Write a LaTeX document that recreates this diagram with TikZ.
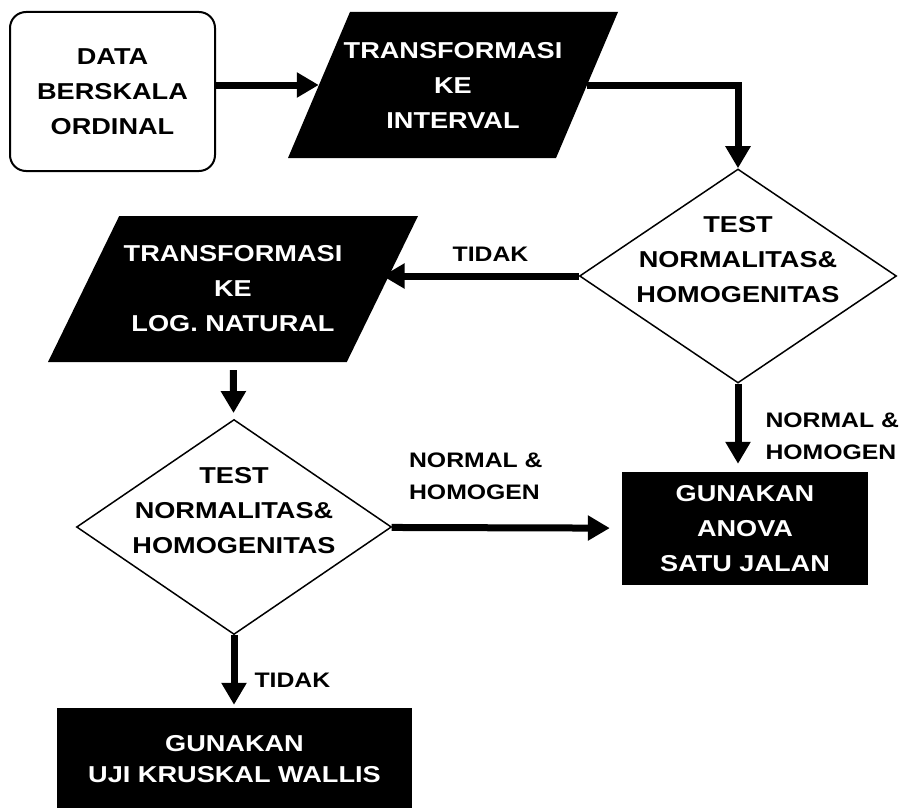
\documentclass[tikz,border=0pt]{standalone}
\usepackage{fontspec}
\usepackage{tikz}
\usetikzlibrary{arrows.meta,shapes.geometric,positioning}
\newfontfamily\flowfont{Liberation Sans}[FakeStretch=1.18]
\newcommand{\bigtxt}{\flowfont\bfseries\fontsize{23}{35}\selectfont}
\newcommand{\smalltxt}{\flowfont\bfseries\fontsize{21}{32}\selectfont}

\begin{document}
\begin{tikzpicture}[x=1pt, y=-1pt,
	arr/.style={line width=7pt, -{Triangle[length=22pt,width=24pt]}},
	start/.style={rectangle, rounded corners=16pt, draw, line width=2pt, align=center, font=\bigtxt},
	box/.style={rectangle, fill=black, text=white, align=center, font=\bigtxt},
	io/.style={trapezium, trapezium stretches body, fill=black, inner xsep=0pt, inner ysep=73pt},
	decision/.style={diamond, draw, line width=1.5pt, inner sep=0pt},
	boxtext/.style={text=white, align=center, font=\bigtxt},
	dectext/.style={align=center, font=\bigtxt, yshift=16pt},
	lab/.style={inner sep=0pt, align=left, font=\smalltxt}]
	\useasboundingbox (0,0) rectangle (902,808);
	\node[start, minimum width=205pt, minimum height=159pt] (A) at (112.5,91.5) {DATA\\BERSKALA\\ORDINAL};
	\node[io, trapezium left angle=67, trapezium right angle=113, minimum width=330pt,
		label={[boxtext]center:TRANSFORMASI\\KE\\INTERVAL}] (B) at (453,85) {};
	\node[decision, minimum width=317pt, minimum height=214pt,
		label={[dectext]center:TEST\\NORMALITAS\&\\HOMOGENITAS}] (C) at (738,276) {};
	\node[io, trapezium left angle=64, trapezium right angle=116, minimum width=370pt,
		label={[boxtext]center:TRANSFORMASI\\KE\\LOG. NATURAL}] (D) at (233,289) {};
	\node[decision, minimum width=315pt, minimum height=215pt,
		label={[dectext]center:TEST\\NORMALITAS\&\\HOMOGENITAS}] (E) at (234,527) {};
	\node[box, minimum width=246pt, minimum height=113pt] (F) at (745,528.5) {GUNAKAN\\ANOVA\\SATU JALAN};
	\node[box, minimum width=355pt, minimum height=102pt, font=\flowfont\bfseries\fontsize{23}{31}\selectfont]
		(G) at (234.5,759) {GUNAKAN\\UJI KRUSKAL WALLIS};

	\draw[arr] (A.east |- B.center) -- (B);
	\draw[arr] (B) -| (C);
	\draw[arr] (C.west) -- (C.west -| D.0) node[lab, above=11pt, pos=0.45] {TIDAK};
	\draw[arr, shorten >=8pt] (C) -- (C |- F.north) node[lab, right=24pt, pos=0.6] {NORMAL \&\\HOMOGEN};
	\draw[arr, shorten <=8pt, shorten >=6pt] (D) -- (E);
	\draw[arr, shorten >=12pt] (E) -- (F) node[lab, anchor=south west, xshift=14pt, yshift=24pt, pos=0] {NORMAL \&\\HOMOGEN};
	\draw[arr, shorten >=3pt] (E) -- (E |- G.north) node[lab, right=17pt, pos=0.62] {TIDAK};
\end{tikzpicture}
\end{document}
